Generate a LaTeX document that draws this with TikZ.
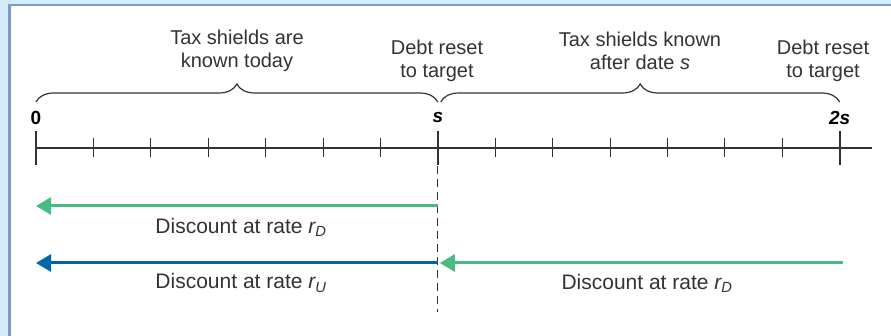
\documentclass[tikz,border=0pt]{standalone}
\usepackage{fontspec}
\setmainfont{Liberation Sans}
\usetikzlibrary{arrows.meta, decorations.pathreplacing}
\definecolor{LBlue}{RGB}{212, 236, 250}
\definecolor{FBlue}{RGB}{122, 154, 206}
\definecolor{DBlue}{RGB}{0, 102, 170}
\definecolor{MGreen}{RGB}{74, 187, 128}
\definecolor{Ink}{HTML}{333333}
\newcommand{\discrate}[1]{{\itshape r}\textsubscript{\itshape #1}}

\begin{document}
\begin{tikzpicture}[x=1pt, y=-1pt, font=\fontsize{20}{23}\selectfont, text=Ink,
    datelabel/.style={font=\fontsize{19}{19}\selectfont\bfseries, text=black},
    ratelabel/.style={font=\fontsize{21}{23}\selectfont},
    bracket/.style={draw=Ink, line width=1.2, decorate, decoration={brace, amplitude=18pt}},
    rate arrow/.style={line width=3, -{Triangle[length=15pt, width=17pt]}}]

    \def\Xo{36}
    \def\Dx{57.4}
    \def\Ya{148}

    \useasboundingbox (0,0) rectangle (891,336);

    % Frame
    \fill[LBlue] (0,0) rectangle (891,336);
    \fill[white] (9.3,5) rectangle (891,336);
    \draw[FBlue, line width=2.5] (9.3,336) -- (9.3,5) -- (891,5);

    % Time line
    \begin{scope}[name prefix=tick-]
        \foreach \i in {0,...,14} {
            \coordinate (\i) at (\Xo+\i*\Dx,\Ya);
        }
        \coordinate (end) at (872,\Ya);
        \coordinate (cut) at (\Xo+7*\Dx,312);
    \end{scope}

    \draw[Ink, line width=1.2] (tick-0) -- (tick-end);
    \foreach \i in {1,...,13} {
        \ifnum\i=7\else
            \draw[Ink, line width=1] (tick-\i) ++(0,-9.5) -- ++(0,19);
        \fi
    }
    \foreach \i in {0,7,14} {
        \draw[Ink, line width=2] (tick-\i) ++(0,-17) -- ++(0,34);
    }
    \draw[Ink, line width=1, dash pattern=on 8pt off 5pt] ([yshift=-18pt]tick-7) -- (tick-cut);

    % Dates
    \node[datelabel] (date-0) at ([yshift=30.5pt]tick-0) {0};
    \node[datelabel] (date-s) at ([yshift=30.5pt]tick-7) {\itshape s};
    \node[datelabel] (date-2s) at ([yshift=30.5pt]tick-14) {\itshape 2s};

    % Braces
    \draw[bracket] ([yshift=46pt]tick-0) -- ([yshift=46pt]tick-7);
    \draw[bracket] ([xshift=3pt, yshift=46pt]tick-7) -- ([yshift=46pt]tick-14);

    \node[align=center] (known) at (237,51) {Tax shields are\\known today};
    \node[align=center] (reset-s) at (437,61) {Debt reset\\to target};
    \node[align=center] (later) at (640,51) {Tax shields known\\after date {\itshape s}};
    \node[align=center] (reset-2s) at (823,61) {Debt reset\\to target};

    % Discounting
    \coordinate (up-s) at (\Xo+7*\Dx,206);
    \coordinate (up-0) at (\Xo,206);
    \coordinate (lo-s) at (\Xo+7*\Dx,263);
    \coordinate (lo-0) at (\Xo,263);
    \coordinate (lo-2s) at (843,263);
    \coordinate (lo-tip) at (\Xo+7*\Dx+2,263);

    \draw[rate arrow, MGreen] (up-s) -- (up-0);
    \draw[rate arrow, DBlue] (lo-s) -- (lo-0);
    \draw[rate arrow, MGreen] (lo-2s) -- (lo-tip);

    \node[ratelabel] (rate-up) at (241,227) {Discount at rate \discrate{D}};
    \node[ratelabel] (rate-lo) at (241,283) {Discount at rate \discrate{U}};
    \node[ratelabel] (rate-late) at (647,283) {Discount at rate \discrate{D}};

\end{tikzpicture}
\end{document}
